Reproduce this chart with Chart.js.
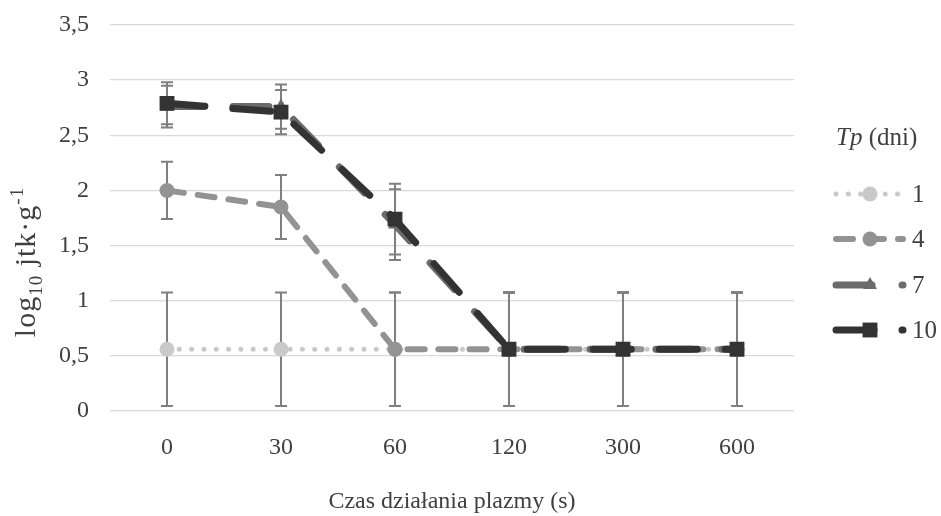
<!DOCTYPE html>
<html>
<head>
<meta charset="utf-8">
<script src="https://cdn.jsdelivr.net/npm/chart.js@4.4.0/dist/chart.umd.min.js"></script>
<style>
  html, body { margin: 0; padding: 0; background: #fff; }
  #wrap { width: 941px; height: 516px; position: relative; }
</style>
</head>
<body>
<div id="wrap"><canvas id="chart"></canvas></div>
<script>
// --- Data ---
const categories = ['0', '30', '60', '120', '300', '600'];
const seriesNames = ['1', '4', '7', '10'];
const tp1 = [0.56, 0.56, 0.56, 0.56, 0.56, 0.56];
const tp4 = [2.0, 1.85, 0.56, 0.56, 0.56, 0.56];
const tp7 = [2.76, 2.76, 1.69, 0.56, 0.56, 0.56];
const tp10 = [2.79, 2.71, 1.74, 0.56, 0.56, 0.56];
// error bar half-widths
const err1 = [0.515, 0.515, 0.515, 0.515, 0.515, 0.515];
const err4 = [0.26, 0.29, 0.515, 0.515, 0.515, 0.515];
const err7 = [0.19, 0.2, 0.32, 0.515, 0.515, 0.515];
const err10 = [0.19, 0.2, 0.32, 0.515, 0.515, 0.515];

const FONT = "'Liberation Serif', 'Times New Roman', serif";
const FS = 24;
const TEXT = '#404040';

// --- Error bars (drawn under the markers) ---
const errorBars = {
  id: 'errorBars',
  beforeDatasetsDraw(chart) {
    const ctx = chart.ctx;
    const y = chart.scales.y;
    ctx.save();
    ctx.strokeStyle = '#7f7f7f';
    ctx.lineWidth = 2;
    ctx.setLineDash([]);
    chart.data.datasets.forEach((ds, i) => {
      const meta = chart.getDatasetMeta(i);
      meta.data.forEach((pt, j) => {
        const v = ds.data[j], e = ds.errors[j];
        const top = y.getPixelForValue(v + e), bot = y.getPixelForValue(v - e);
        ctx.beginPath();
        ctx.moveTo(pt.x, top); ctx.lineTo(pt.x, bot);
        ctx.moveTo(pt.x - 6, top); ctx.lineTo(pt.x + 6, top);
        ctx.moveTo(pt.x - 6, bot); ctx.lineTo(pt.x + 6, bot);
        ctx.stroke();
      });
    });
    ctx.restore();
  }
};

function drawMarker(ctx, style, r, x, y) {
  ctx.beginPath();
  if (style === 'circle') {
    ctx.arc(x, y, r, 0, Math.PI * 2);
  } else if (style === 'triangle') {
    for (let k = 0; k < 3; k++) {
      const a = k * 2 * Math.PI / 3;
      const px = x + Math.sin(a) * r, py = y - Math.cos(a) * r;
      k === 0 ? ctx.moveTo(px, py) : ctx.lineTo(px, py);
    }
    ctx.closePath();
  } else {
    const s = r * Math.SQRT1_2;
    ctx.rect(x - s, y - s, 2 * s, 2 * s);
  }
  ctx.fill();
}

// --- Legend + y axis title ---
const extras = {
  id: 'extras',
  afterDraw(chart) {
    const ctx = chart.ctx;
    ctx.save();
    ctx.fillStyle = TEXT;
    ctx.textBaseline = 'alphabetic';

    // legend title
    ctx.textAlign = 'left';
    ctx.font = 'italic 25px ' + FONT;
    ctx.fillText('Tp', 836, 145);
    const w = ctx.measureText('Tp').width;
    ctx.font = '25px ' + FONT;
    ctx.fillText(' (dni)', 836 + w, 145);

    // legend items
    const rows = [194, 239, 285, 330];
    chart.data.datasets.forEach((ds, i) => {
      const ly = rows[i];
      ctx.save();
      ctx.strokeStyle = ds.borderColor;
      ctx.lineWidth = ds.borderWidth;
      ctx.lineCap = 'round';
      ctx.setLineDash(ds.borderDash);
      ctx.beginPath();
      ctx.moveTo(836, ly); ctx.lineTo(903, ly);
      ctx.stroke();
      ctx.fillStyle = ds.pointBackgroundColor;
      drawMarker(ctx, ds.pointStyle, ds.pointRadius, 870, ly);
      ctx.restore();
      ctx.fillStyle = TEXT;
      ctx.font = '25px ' + FONT;
      ctx.fillText(seriesNames[i], 912, ly + 8);
    });

    // y axis title: log10 jtk·g-1
    ctx.translate(35, 262);
    ctx.rotate(-Math.PI / 2);
    ctx.letterSpacing = '1px';
    const parts = [
      ['log', 30, 0], ['10', 19, 7], [' jtk·g', 30, 0], ['-1', 19, -12]
    ];
    let total = 0;
    parts.forEach(p => { ctx.font = p[1] + 'px ' + FONT; total += ctx.measureText(p[0]).width; });
    let cx = -total / 2;
    parts.forEach(p => {
      ctx.font = p[1] + 'px ' + FONT;
      ctx.fillText(p[0], cx, p[2]);
      cx += ctx.measureText(p[0]).width;
    });
    ctx.restore();
  }
};

// --- Chart ---
const ctx = document.getElementById('chart');
new Chart(ctx, {
  type: 'line',
  data: {
    labels: categories,
    datasets: [
      { label: seriesNames[0], data: tp1, errors: err1, order: 4,
        borderColor: '#c9c9c9', borderWidth: 5, borderDash: [0.01, 12.3], borderCapStyle: 'round',
        pointStyle: 'circle', pointRadius: 7.5, pointBackgroundColor: '#c9c9c9', pointBorderWidth: 0 },
      { label: seriesNames[1], data: tp4, errors: err4, order: 3,
        borderColor: '#939393', borderWidth: 6, borderDash: [17, 14], borderCapStyle: 'round',
        pointStyle: 'circle', pointRadius: 7.5, pointBackgroundColor: '#939393', pointBorderWidth: 0 },
      { label: seriesNames[2], data: tp7, errors: err7, order: 2,
        borderColor: '#6b6b6b', borderWidth: 7, borderDash: [36, 30], borderCapStyle: 'round',
        pointStyle: 'triangle', pointRadius: 8, pointBackgroundColor: '#6b6b6b', pointBorderWidth: 0 },
      { label: seriesNames[3], data: tp10, errors: err10, order: 1,
        borderColor: '#333333', borderWidth: 7, borderDash: [38, 28], borderCapStyle: 'round',
        pointStyle: 'rect', pointRadius: 10.5, pointBackgroundColor: '#333333', pointBorderWidth: 0 }
    ]
  },
  options: {
    responsive: true,
    maintainAspectRatio: false,
    animation: false,
    layout: { padding: { left: 0, right: 147, top: 25, bottom: 0 } },
    plugins: { legend: { display: false }, tooltip: { enabled: false } },
    scales: {
      x: {
        offset: true,
        afterFit: (scale) => { scale.height = 105; },
        grid: { display: false },
        border: { display: false },
        ticks: { color: TEXT, font: { family: FONT, size: FS }, padding: 14 },
        title: { display: true, text: 'Czas działania plazmy (s)', color: TEXT,
                 font: { family: FONT, size: FS }, padding: { top: 0, bottom: 0 } }
      },
      y: {
        min: 0, max: 3.5,
        afterFit: (scale) => { scale.width = 110; scale.paddingTop = 0; scale.paddingBottom = 0; },
        grid: { color: '#d9d9d9', lineWidth: 1.3, drawTicks: false },
        border: { display: false },
        ticks: { stepSize: 0.5, color: TEXT, font: { family: FONT, size: FS }, padding: 21,
                 callback: (v) => String(v).replace('.', ',') }
      }
    }
  },
  plugins: [errorBars, extras]
});
</script>
</body>
</html>
